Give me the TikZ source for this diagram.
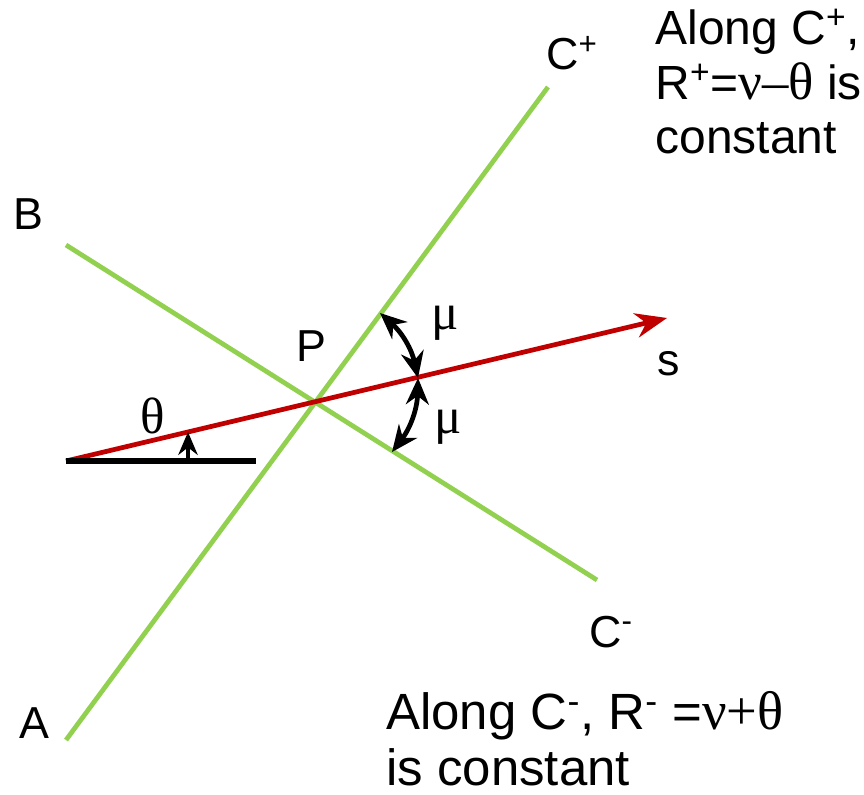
\documentclass[tikz,border=0pt]{standalone}
\usepackage{fontspec}
\setmainfont{Liberation Sans}
\newfontfamily\grk{Liberation Serif}
\usetikzlibrary{arrows.meta}
\definecolor{charGreen}{RGB}{146,208,80}
\definecolor{sRed}{RGB}{192,0,0}

\begin{document}
\begin{tikzpicture}[
  x=0.02cm, y=-0.02cm,
  charline/.style={draw=charGreen,line width=2.7pt},
  sline/.style={draw=sRed,line width=2.7pt,
                -{Stealth[length=18pt,width=14pt]}},
  angarrow/.style={line width=2.7pt,
                   {Stealth[length=15pt,width=13pt]}-{Stealth[length=15pt,width=13pt]}},
  lbl/.style={font=\fontsize{25.5}{30}\selectfont,inner sep=0pt},
  grklbl/.style={font=\fontsize{29}{30}\selectfont\grk,inner sep=0pt},
  note/.style={align=left,inner sep=0pt,anchor=north west}
]
\useasboundingbox (0,0) rectangle (864,794);

% end points of the characteristics and the streamline
\coordinate (A) at (66,740);
\coordinate (Cplus) at (548,87);
\coordinate (B) at (66,245);
\coordinate (Cminus) at (597,580);
\coordinate (sstart) at (66,461);
\coordinate (stip) at (667,318);
\coordinate (hend) at (256,461);

\draw[charline] (A) -- (Cplus);
\draw[charline] (B) -- (Cminus);
\draw[sline] (sstart) -- (stip);
\draw[line width=3pt] (sstart) -- (hend);

% angle arrows
\coordinate (muup) at (380,313);
\coordinate (mumid) at (418,378);
\coordinate (mulow) at (392,452);
\coordinate (thfoot) at (188,461);
\coordinate (thtop) at (188,432);
\draw[angarrow] (muup) to[bend left=18] (mumid);
\draw[angarrow] (mumid) to[bend left=18] (mulow);
\draw[line width=2.7pt,-{Stealth[length=13pt,width=11pt]}] (thfoot) -- (thtop);

% labels
\node[lbl] (labB) at (28.5,214) {B};
\node[lbl] (labA) at (34,723.5) {A};
\node[lbl] (labP) at (311,346) {P};
\node[lbl,anchor=base] (labs) at (669,375) {s};
\node[lbl,anchor=base west] (labCp) at (546,70) {C\textsuperscript{+}};
\node[lbl,anchor=base west] (labCm) at (589,647) {C\textsuperscript{-}};
\node[grklbl] (labth) at (152.5,416) {θ};
\node[grklbl] (labmu1) at (445,323) {μ};
\node[grklbl] (labmu2) at (448,427) {μ};

\node[note,font=\fontsize{27.3}{31}\selectfont] (noteplus) at (655,9)
  {Along C\textsuperscript{+},\\
   R\textsuperscript{+}={\grk\fontsize{30}{31}\selectfont ν–θ} is\\
   constant};
\node[note,font=\fontsize{29}{32}\selectfont] (noteminus) at (386,691)
  {Along C\textsuperscript{-}, R\textsuperscript{-} ={\grk\fontsize{31}{32}\selectfont ν+θ}\\
   is constant};
\end{tikzpicture}
\end{document}
